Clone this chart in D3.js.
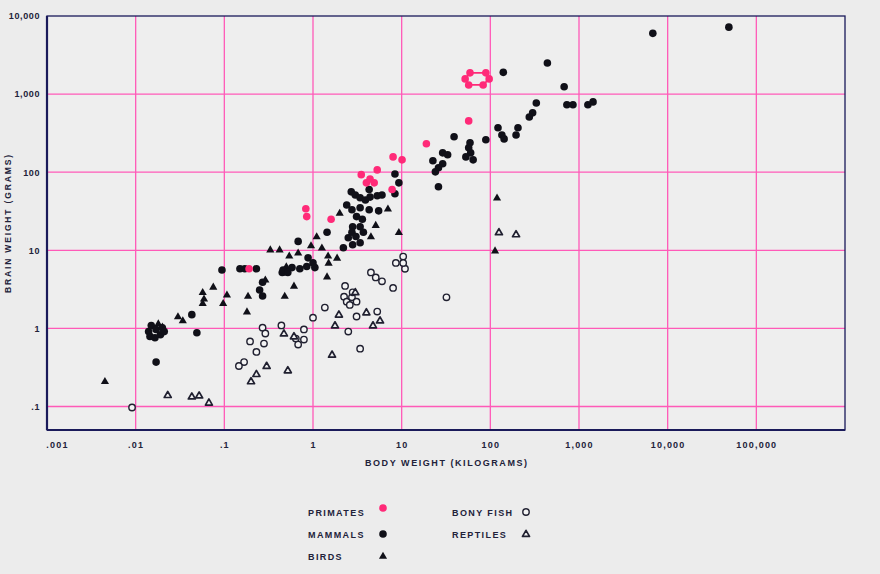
<!DOCTYPE html>
<html>
<head>
<meta charset="utf-8">
<script src="https://cdn.jsdelivr.net/npm/d3@7"></script>
<style>
  html, body { margin: 0; padding: 0; background: #ececec; }
  svg { display: block; }
  text { font-family: "Liberation Sans", Arial, Helvetica, sans-serif; fill: #22223a; font-weight: bold; }
</style>
</head>
<body>
<svg id="chart" width="880" height="574"></svg>
<script>
// Brain weight (g) against body weight (kg), log-log, by animal group.
// Each entry: [body weight kg, brain weight g]

const primates = [
  [0.83, 34], [0.85, 27], [1.6, 25], [0.19, 5.8],
  [3.5, 93], [5.3, 107], [4.0, 73], [4.9, 73], [4.4, 82], [7.8, 60],
  [8.0, 157], [10.1, 144], [19, 231], [57, 454]
];
// Outlined group of large primates (drawn as a closed ring)
const primateRing = [
  [52, 1565], [59, 1870], [89, 1870], [97, 1565], [83, 1310], [57, 1310]
];

const mammals = [
  [6800, 6000], [49000, 7200], [440, 2500], [140, 1900], [680, 1240],
  [730, 730], [855, 730], [1260, 730], [1440, 795], [330, 770], [300, 575], [275, 510],
  [122, 370], [135, 300], [143, 267], [205, 370], [195, 300], [89, 260],
  [39, 284], [59, 238], [57, 205], [60, 177], [53, 157], [64, 144],
  [29, 177], [33, 167], [22.5, 140], [29, 128], [26, 114], [24, 101], [26, 65],
  [8.4, 95], [9.3, 73], [8.4, 53],
  [2.7, 56], [3.0, 51], [3.4, 47], [4.3, 60], [4.4, 48], [5.3, 50], [6.0, 51], [3.9, 44],
  [2.4, 38], [2.75, 33], [3.4, 35], [4.3, 33], [5.5, 32],
  [3.1, 27], [3.6, 25], [2.8, 20], [3.4, 20], [3.7, 17], [2.75, 17],
  [3.05, 15], [2.5, 14.5], [3.4, 12.5], [2.8, 11.8], [2.2, 10.8],
  [1.44, 17], [0.68, 13],
  [0.48, 5.3], [0.58, 6.0], [0.71, 5.8], [0.85, 6.2], [1.0, 6.9], [1.05, 6.0], [0.88, 8.0],
  [0.45, 5.2], [0.46, 5.6], [0.52, 5.2],
  [0.094, 5.6], [0.15, 5.8], [0.17, 5.8], [0.23, 5.8],
  [0.27, 3.9], [0.25, 3.1], [0.27, 2.6],
  [0.043, 1.5], [0.049, 0.88], [0.017, 0.37],
  [0.014, 0.91], [0.015, 1.09], [0.017, 0.97], [0.019, 0.83], [0.020, 1.02],
  [0.0145, 0.79], [0.0165, 0.76], [0.021, 0.91]
];

const birds = [
  [119, 47], [113, 9.9],
  [2.0, 30], [7.0, 34], [5.1, 21], [4.5, 15], [9.3, 17],
  [1.1, 15], [0.95, 11.5], [1.26, 10.8], [0.68, 9.3], [0.54, 8.5],
  [1.48, 8.5], [1.87, 8.0], [1.5, 6.9], [1.44, 4.6], [0.61, 3.5], [0.48, 2.6],
  [0.33, 10.2], [0.42, 10.2], [0.29, 4.2], [0.5, 6.2],
  [0.185, 2.6], [0.18, 1.64], [0.107, 2.7], [0.097, 2.1], [0.075, 3.4],
  [0.057, 2.9], [0.059, 2.4], [0.057, 2.1],
  [0.030, 1.42], [0.034, 1.26], [0.018, 1.15], [0.020, 1.05],
  [0.0045, 0.21]
];

const bonyFish = [
  [32, 2.5], [0.0091, 0.097],
  [0.27, 1.02], [0.29, 0.86], [0.195, 0.68], [0.28, 0.64], [0.23, 0.5],
  [0.167, 0.37], [0.146, 0.33],
  [0.44, 1.09], [0.64, 0.74], [0.68, 0.62], [0.79, 0.97], [0.79, 0.72],
  [1.0, 1.37], [1.36, 1.85],
  [2.3, 3.5], [2.24, 2.55], [2.4, 2.2], [2.75, 2.5], [2.6, 2.0], [3.1, 2.2], [2.8, 2.9],
  [3.1, 1.42], [5.3, 1.64], [2.5, 0.91], [3.4, 0.55],
  [4.5, 5.2], [5.1, 4.5], [6.0, 4.0], [8.0, 3.3],
  [8.6, 6.9], [10.4, 8.3], [10.9, 5.8], [10.4, 6.9]
];

const reptiles = [
  [125, 17], [195, 16],
  [0.023, 0.14], [0.043, 0.134], [0.052, 0.138], [0.067, 0.112],
  [0.2, 0.21], [0.23, 0.26], [0.30, 0.33], [0.52, 0.29],
  [0.47, 0.86], [0.61, 0.79],
  [1.96, 1.5], [1.77, 1.09], [4.0, 1.6], [5.7, 1.26], [4.75, 1.09], [1.64, 0.46],
  [3.0, 2.9]
];

const xTickValues = [0.001, 0.01, 0.1, 1, 10, 100, 1000, 10000, 100000];
const xTickLabels = [".001", ".01", ".1", "1", "10", "100", "1,000", "10,000", "100,000"];
const yTickValues = [0.1, 1, 10, 100, 1000, 10000];
const yTickLabels = [".1", "1", "10", "100", "1,000", "10,000"];

const legendItems = [
  { label: "PRIMATES", kind: "primate", col: 0, row: 0 },
  { label: "MAMMALS", kind: "mammal", col: 0, row: 1 },
  { label: "BIRDS", kind: "bird", col: 0, row: 2 },
  { label: "BONY FISH", kind: "fish", col: 1, row: 0 },
  { label: "REPTILES", kind: "reptile", col: 1, row: 1 }
];

const PINK = "#ff2a78";
const GRID = "#ff5ab8";
const INK = "#101018";
const FRAME = "#1a1a5a";
const TEXT = "#22223a";

const svg = d3.select("#chart");
const plotLeft = 47, plotRight = 845, plotTop = 16, plotBottom = 430;

const x = d3.scaleLog().domain([0.001, 1e6]).range([plotLeft, plotRight]);
const y = d3.scaleLog().domain([0.05, 10000]).range([plotBottom, plotTop]);

// plot background
svg.append("rect").attr("x", plotLeft).attr("y", plotTop)
  .attr("width", plotRight - plotLeft).attr("height", plotBottom - plotTop)
  .attr("fill", "#eeeeee");

// grid
const grid = svg.append("g");
grid.selectAll("line.v").data(xTickValues.slice(1)).join("line")
  .attr("x1", d => x(d)).attr("x2", d => x(d))
  .attr("y1", plotTop).attr("y2", plotBottom)
  .attr("stroke", GRID).attr("stroke-width", 1.3);
grid.selectAll("line.h").data(yTickValues.slice(0, -1)).join("line")
  .attr("y1", d => y(d)).attr("y2", d => y(d))
  .attr("x1", plotLeft).attr("x2", plotRight)
  .attr("stroke", GRID).attr("stroke-width", 1.3);

// frame
svg.append("rect").attr("x", plotLeft).attr("y", plotTop)
  .attr("width", plotRight - plotLeft).attr("height", plotBottom - plotTop)
  .attr("fill", "none").attr("stroke", FRAME).attr("stroke-width", 1.3);
svg.append("line").attr("x1", plotLeft).attr("x2", plotLeft).attr("y1", plotTop).attr("y2", plotBottom)
  .attr("stroke", FRAME).attr("stroke-width", 2.2);
svg.append("line").attr("x1", plotLeft).attr("x2", plotRight).attr("y1", plotBottom).attr("y2", plotBottom)
  .attr("stroke", FRAME).attr("stroke-width", 2.2);

// axes (labels only; lines drawn by the frame)
const xAxis = d3.axisBottom(x).tickValues(xTickValues)
  .tickFormat((d, i) => xTickLabels[i]).tickSize(0).tickPadding(12);
const gx = svg.append("g").attr("transform", `translate(0,${plotBottom})`).call(xAxis);
gx.select(".domain").remove();
gx.selectAll("text").attr("font-size", 9).attr("fill", TEXT)
  .attr("font-family", "Liberation Sans, Arial, sans-serif").attr("font-weight", "bold")
  .attr("letter-spacing", 1.2);
gx.selectAll(".tick").filter(d => d === 0.001).select("text").attr("dx", 10);

const yAxis = d3.axisLeft(y).tickValues(yTickValues)
  .tickFormat((d, i) => yTickLabels[i]).tickSize(0).tickPadding(7);
const gy = svg.append("g").attr("transform", `translate(${plotLeft},0)`).call(yAxis);
gy.select(".domain").remove();
gy.selectAll("text").attr("font-size", 9).attr("fill", TEXT)
  .attr("font-family", "Liberation Sans, Arial, sans-serif").attr("font-weight", "bold")
  .attr("letter-spacing", 0.6);

// axis titles
svg.append("text").attr("x", 446).attr("y", 466).attr("text-anchor", "middle")
  .attr("font-size", 9).attr("textLength", 162).text("BODY WEIGHT (KILOGRAMS)");
svg.append("text").attr("transform", "translate(11,224) rotate(-90)")
  .attr("text-anchor", "middle").attr("font-size", 8.5).attr("textLength", 138)
  .text("BRAIN WEIGHT (GRAMS)");

// marker painters
const triPath = (s) => `M0,${-s}L${s * 0.95},${s * 0.65}L${-s * 0.95},${s * 0.65}Z`;

function drawMarker(g, kind) {
  if (kind === "mammal") {
    g.append("circle").attr("r", 3.8).attr("fill", INK);
  } else if (kind === "primate") {
    g.append("circle").attr("r", 3.8).attr("fill", PINK);
  } else if (kind === "bird") {
    g.append("path").attr("d", triPath(4.3)).attr("fill", INK);
  } else if (kind === "fish") {
    g.append("circle").attr("r", 3.2).attr("fill", "#f4f4f4")
      .attr("stroke", "#202030").attr("stroke-width", 1.4);
  } else if (kind === "reptile") {
    g.append("path").attr("d", triPath(3.7)).attr("fill", "#f0f0f0")
      .attr("stroke", "#202030").attr("stroke-width", 1.7).attr("stroke-linejoin", "round");
  }
}

function plotSeries(data, kind) {
  const g = svg.append("g");
  g.selectAll("g").data(data).join("g")
    .attr("transform", d => `translate(${x(d[0])},${y(d[1])})`)
    .each(function () { drawMarker(d3.select(this), kind); });
}

plotSeries(bonyFish, "fish");
plotSeries(reptiles, "reptile");
plotSeries(birds, "bird");
plotSeries(mammals, "mammal");
plotSeries(primates, "primate");

// primate ring outline + its points
svg.append("path")
  .attr("d", d3.line().x(d => x(d[0])).y(d => y(d[1])).curve(d3.curveLinearClosed)(primateRing))
  .attr("fill", "none").attr("stroke", PINK).attr("stroke-width", 1.8);
plotSeries(primateRing, "primate");

// legend
const lg = svg.append("g");
legendItems.forEach(it => {
  const tx = it.col === 0 ? 308 : 452;
  const mx = it.col === 0 ? 383 : 526;
  const ty = 512 + it.row * 22;
  lg.append("text").attr("x", tx).attr("y", ty + 3.5).attr("font-size", 9)
    .attr("letter-spacing", 1.4).text(it.label);
  const m = lg.append("g").attr("transform", `translate(${mx},${ty - (it.kind === "primate" ? 4 : 0)})`);
  drawMarker(m, it.kind);
});
</script>
</body>
</html>
